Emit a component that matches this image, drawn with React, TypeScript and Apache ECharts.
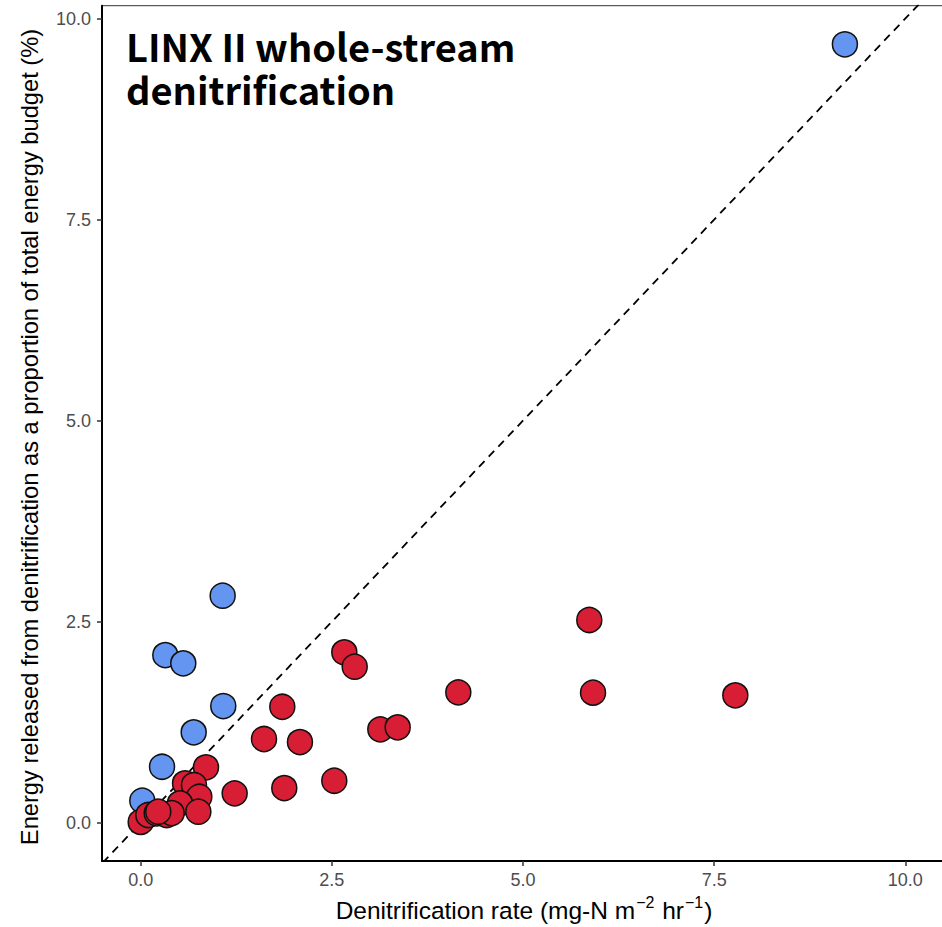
import React, { useEffect, useRef } from "react";
import * as echarts from "echarts";

const tickValues = [0, 2.5, 5, 7.5, 10];

const blueX = [9.21, 1.072, 0.322, 0.557, 1.08, 0.693, 0.279, 0.021];
const blueY = [9.68, 2.823, 2.085, 1.982, 1.451, 1.124, 0.696, 0.274];

const redX = [
  2.663, 2.799, 4.154, 1.852, 3.134, 3.361, 1.613, 2.083, 5.867, 5.916, 7.777,
  0.854, 2.532, 1.878, 1.229, 0.58, 0.697, 0.767, 0.514, 0.754, 0.0, 0.1, 0.21,
  0.34, 0.405, 0.23,
];
const redY = [
  2.119, 1.94, 1.621, 1.442, 1.161, 1.186, 1.041, 1.003, 2.521, 1.617, 1.584,
  0.689, 0.522, 0.431, 0.365, 0.49, 0.469, 0.323, 0.241, 0.137, 0.01, 0.096,
  0.117, 0.096, 0.12, 0.137,
];

const identityEnds = [-1, 11];

const titleLines = ["LINX II whole-stream", "denitrification"];
const yTitle =
  "Energy released from denitrification as a proportion of total energy budget (%)";

export default function App() {
  const ref = useRef<HTMLDivElement>(null);
  useEffect(() => {
    document.body.style.margin = "0";
    const chart = echarts.init(ref.current!, null, { renderer: "svg" });
    const axisFont = "'Liberation Sans', Arial, sans-serif";
    const titleFont = "bold 38px 'Noto Sans CJK SC', 'Noto Sans', sans-serif";
    const option: any = {
      animation: false,
      backgroundColor: "#ffffff",
      grid: { left: 102, top: 5.7, right: 0, bottom: 66, containLabel: false },
      xAxis: {
        type: "value",
        min: -0.506,
        max: 10.48,
        splitLine: { show: false },
        axisLine: { show: true, onZero: false, lineStyle: { color: "#000", width: 2 } },
        axisTick: {
          show: true,
          length: 5,
          customValues: tickValues,
          lineStyle: { color: "#333", width: 1.5 },
        },
        axisLabel: {
          customValues: tickValues,
          margin: 10,
          color: "#4D4D4D",
          fontSize: 18,
          fontFamily: axisFont,
          formatter: (v: number) => v.toFixed(1),
        },
      },
      yAxis: {
        type: "value",
        min: -0.476,
        max: 10.16,
        splitLine: { show: false },
        axisLine: { show: true, onZero: false, lineStyle: { color: "#000", width: 2 } },
        axisTick: {
          show: true,
          length: 5,
          customValues: tickValues,
          lineStyle: { color: "#333", width: 1.5 },
        },
        axisLabel: {
          customValues: tickValues,
          margin: 11,
          color: "#4D4D4D",
          fontSize: 18,
          fontFamily: axisFont,
          formatter: (v: number) => v.toFixed(1),
        },
      },
      series: [
        {
          type: "line",
          data: identityEnds.map((v) => [v, v]),
          symbol: "none",
          clip: true,
          lineStyle: { color: "#000", width: 1.8, type: [8, 6] },
          z: 1,
        },
        {
          type: "scatter",
          data: blueX.map((x, i) => [x, blueY[i]]),
          symbolSize: 25,
          itemStyle: { color: "#6495F0", borderColor: "#111", borderWidth: 1.5, opacity: 1 },
          z: 2,
        },
        {
          type: "scatter",
          data: redX.map((x, i) => [x, redY[i]]),
          symbolSize: 25,
          itemStyle: { color: "#D71E34", borderColor: "#111", borderWidth: 1.5, opacity: 1 },
          z: 3,
        },
      ],
      graphic: [
        {
          type: "line",
          shape: { x1: 102, y1: 5.7, x2: 942, y2: 5.7 },
          style: { stroke: "#333", lineWidth: 1 },
          silent: true,
        },
        {
          type: "text",
          left: 126,
          top: 24,
          style: {
            text: titleLines.join("\n"),
            font: titleFont,
            lineHeight: 43,
            fill: "#000",
          },
        },
        {
          type: "text",
          x: 524,
          y: 910,
          style: {
            text: "{n|Denitrification rate (mg-N m}{s|−2}{n| hr}{s|−1}{n|)}",
            align: "center",
            verticalAlign: "middle",
            rich: {
              n: { fontSize: 24.5, fontFamily: axisFont, color: "#000" },
              s: {
                fontSize: 16,
                fontFamily: axisFont,
                color: "#000",
                padding: [0, 1, 15, 1],
              },
            },
          },
        },
        {
          type: "text",
          x: 30,
          y: 437,
          rotation: Math.PI / 2,
          style: {
            text: yTitle,
            align: "center",
            verticalAlign: "middle",
            font: `23.7px ${axisFont}`,
            fill: "#000",
          },
        },
      ],
    };
    chart.setOption(option);
    return () => chart.dispose();
  }, []);
  return <div ref={ref} style={{ width: 942, height: 927 }} />;
}
